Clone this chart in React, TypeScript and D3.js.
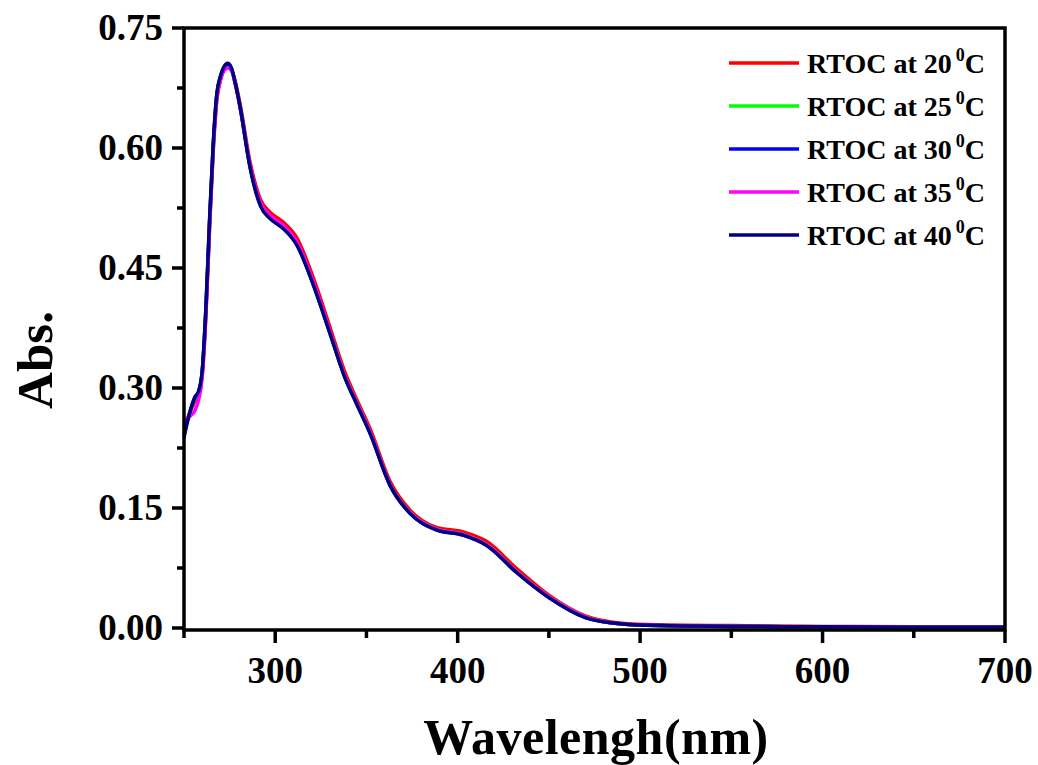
import React, { useEffect, useRef } from "react";
import * as d3 from "d3";

// wavelengths (nm) shared by all series
const wavelengths = [
  250, 253, 256, 258, 260, 262, 264, 266, 268, 270, 272, 274, 276, 278, 281, 286, 292, 297, 304, 312,
  321, 330, 338, 345, 352, 363, 374, 388, 403, 416, 432, 450, 470, 490, 510, 550, 600, 650, 700,
];

const abs20 = [
  0.25, 0.268, 0.283, 0.292, 0.318, 0.392, 0.5, 0.595, 0.66, 0.685, 0.698, 0.701, 0.698, 0.684, 0.652,
  0.585, 0.535, 0.52, 0.508, 0.487, 0.437, 0.376, 0.321, 0.284, 0.249, 0.183, 0.147, 0.126, 0.12, 0.108,
  0.075, 0.041, 0.015, 0.006, 0.004, 0.003, 0.002, 0.0015, 0.0012,
];
const abs25 = [
  0.245, 0.268, 0.287, 0.295, 0.321, 0.398, 0.507, 0.602, 0.666, 0.689, 0.701, 0.704, 0.699, 0.682, 0.649,
  0.58, 0.529, 0.514, 0.502, 0.48, 0.43, 0.37, 0.316, 0.28, 0.245, 0.179, 0.144, 0.124, 0.117, 0.104,
  0.071, 0.039, 0.014, 0.005, 0.003, 0.002, 0.0015, 0.001, 0.001,
];
const abs30 = [
  0.242, 0.268, 0.288, 0.295, 0.321, 0.399, 0.508, 0.603, 0.667, 0.689, 0.701, 0.705, 0.699, 0.682, 0.648,
  0.579, 0.528, 0.513, 0.501, 0.479, 0.429, 0.369, 0.315, 0.279, 0.244, 0.178, 0.143, 0.123, 0.116, 0.103,
  0.07, 0.038, 0.013, 0.005, 0.003, 0.002, 0.0015, 0.001, 0.001,
];
const abs35 = [
  0.257, 0.264, 0.272, 0.285, 0.314, 0.39, 0.5, 0.598, 0.662, 0.685, 0.697, 0.7, 0.697, 0.681, 0.648,
  0.581, 0.531, 0.516, 0.504, 0.482, 0.432, 0.371, 0.316, 0.28, 0.245, 0.179, 0.144, 0.124, 0.117, 0.104,
  0.071, 0.039, 0.014, 0.005, 0.003, 0.002, 0.0015, 0.001, 0.001,
];
const abs40 = [
  0.238, 0.268, 0.289, 0.296, 0.322, 0.4, 0.51, 0.605, 0.668, 0.69, 0.702, 0.706, 0.7, 0.682, 0.648,
  0.578, 0.527, 0.512, 0.5, 0.478, 0.428, 0.368, 0.314, 0.278, 0.243, 0.178, 0.143, 0.123, 0.116, 0.103,
  0.07, 0.038, 0.013, 0.005, 0.003, 0.002, 0.0015, 0.001, 0.001,
];

const seriesLabels = ["20", "25", "30", "35", "40"];
const seriesColors = ["#ff0000", "#00ff00", "#0000ff", "#ff00ff", "#000080"];
const seriesValues = [abs20, abs25, abs30, abs35, abs40];

const xTicks = [300, 400, 500, 600, 700];
const xMinor = [250, 350, 450, 550, 650];
const yTicks = [0, 0.15, 0.3, 0.45, 0.6, 0.75];
const yMinor = [0.075, 0.225, 0.375, 0.525, 0.675];

const W = 1038;
const H = 765;
const FONT = "'Liberation Serif', 'Times New Roman', serif";

const App = () => {
  const svgRef = useRef<SVGSVGElement>(null);

  useEffect(() => {
    const svg = d3.select(svgRef.current);
    svg.selectAll("*").remove();

    const left = 184;
    const right = 1005;
    const top = 28;
    const bottom = 628;

    const x = d3.scaleLinear().domain([250, 700]).range([left, right]);
    const y = d3.scaleLinear().domain([0, 0.75]).range([bottom, top]);

    svg.append("rect").attr("width", W).attr("height", H).attr("fill", "#fff");

    // curves
    const line = d3
      .line<number>()
      .x((_, i) => x(wavelengths[i]))
      .y((d) => y(d))
      .curve(d3.curveMonotoneX);

    seriesValues.forEach((vals, i) => {
      svg
        .append("path")
        .attr("d", line(vals))
        .attr("fill", "none")
        .attr("stroke", seriesColors[i])
        .attr("stroke-width", 3.5)
        .attr("stroke-linejoin", "round");
    });

    // frame
    const axisY = bottom + 2;
    svg
      .append("path")
      .attr("d", `M${left},${top}H${right}V${axisY}H${left}Z`)
      .attr("fill", "none")
      .attr("stroke", "#000")
      .attr("stroke-width", 3.5);

    // y ticks
    yTicks.forEach((t) => {
      svg.append("line").attr("x1", left - 12).attr("x2", left).attr("y1", y(t)).attr("y2", y(t))
        .attr("stroke", "#000").attr("stroke-width", 3.5);
      svg.append("text").attr("x", left - 21).attr("y", y(t) + 12).attr("text-anchor", "end")
        .style("font-family", FONT).style("font-weight", "bold").style("font-size", "37px")
        .text(t.toFixed(2));
    });
    yMinor.forEach((t) => {
      svg.append("line").attr("x1", left - 7).attr("x2", left).attr("y1", y(t)).attr("y2", y(t))
        .attr("stroke", "#000").attr("stroke-width", 3.5);
    });

    // x ticks
    xTicks.forEach((t) => {
      svg.append("line").attr("x1", x(t)).attr("x2", x(t)).attr("y1", axisY).attr("y2", axisY + 13)
        .attr("stroke", "#000").attr("stroke-width", 3.5);
      svg.append("text").attr("x", x(t)).attr("y", 683).attr("text-anchor", "middle")
        .style("font-family", FONT).style("font-weight", "bold").style("font-size", "37px")
        .text(t);
    });
    xMinor.forEach((t) => {
      svg.append("line").attr("x1", x(t)).attr("x2", x(t)).attr("y1", axisY).attr("y2", axisY + 8)
        .attr("stroke", "#000").attr("stroke-width", 3.5);
    });

    // axis titles
    svg.append("text").attr("x", 596).attr("y", 754).attr("text-anchor", "middle")
      .style("font-family", FONT).style("font-weight", "bold").style("font-size", "50px")
      .style("letter-spacing", "0.5px")
      .text("Wavelengh(nm)");
    svg.append("text").attr("transform", "translate(52,360) rotate(-90)").attr("text-anchor", "middle")
      .style("font-family", FONT).style("font-weight", "bold").style("font-size", "51px")
      .text("Abs.");

    // legend
    seriesLabels.forEach((lab, i) => {
      const ly = 63 + i * 43;
      svg.append("line").attr("x1", 729).attr("x2", 799).attr("y1", ly).attr("y2", ly)
        .attr("stroke", seriesColors[i]).attr("stroke-width", 3.5);
      const t = svg.append("text").attr("x", 807).attr("y", ly + 10)
        .style("font-family", FONT).style("font-weight", "bold").style("font-size", "28px");
      t.append("tspan").text(`RTOC at ${lab}`);
      t.append("tspan").attr("dy", -12).attr("dx", 4).style("font-size", "18px").text("0");
      t.append("tspan").attr("dy", 12).text("C");
    });
  }, []);

  return (
    <svg
      ref={svgRef}
      width={W}
      height={H}
      style={{ position: "absolute", left: 0, top: 0, display: "block" }}
    />
  );
};

export default App;
